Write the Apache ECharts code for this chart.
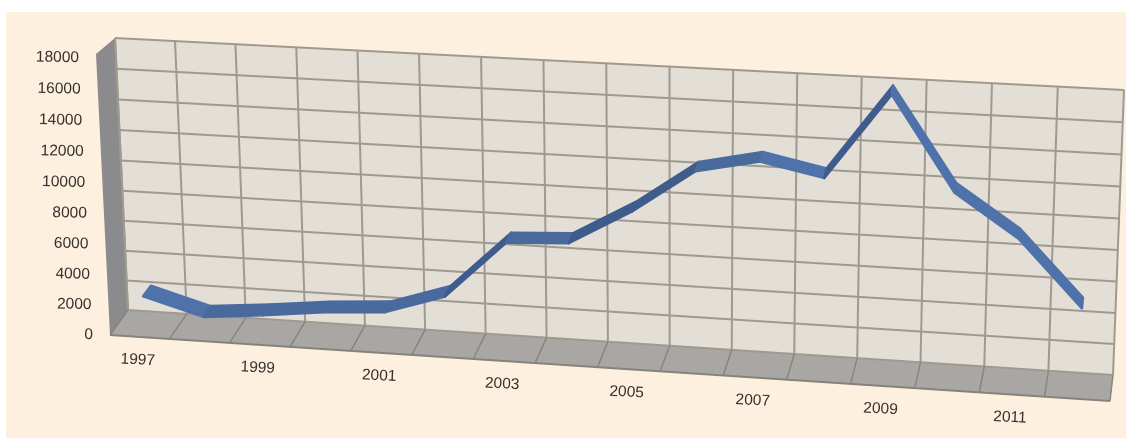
<!DOCTYPE html>
<html>
<head>
<meta charset="utf-8">
<style>
html,body{margin:0;padding:0;background:#ffffff;}
#chart{width:1126px;height:438px;}
</style>
<script src="https://cdn.jsdelivr.net/npm/echarts@6/dist/echarts.min.js"></script>
</head>
<body>
<div id="chart"></div>
<script>
// Yearly series drawn on a receding 3-D wall.
var years = ['1997','1998','1999','2000','2001','2002','2003','2004','2005','2006','2007','2008','2009','2010','2011','2012'];
var values = [2220,1120,1480,1930,2190,3480,7200,7410,9660,12450,13300,12500,17900,12060,9410,5290];
var valueTicks = [0,2000,4000,6000,8000,10000,12000,14000,16000,18000];

// Screen corners of the back wall and the depth vector at each corner.
var wallQuad = {tl:[115,38], tr:[1124,90], br:[1113,375], bl:[128,310]};
var depth = {tl:[-19,16], tr:[1,22], br:[-3,26], bl:[-18,25]};
var ribbonNear = 0.72, ribbonFar = 0.28;

var colors = {
  page:'#fdf0de', wall:'#e3dfd7', line:'#a0998f', floor:'#a9a7a4', floorLine:'#86827c',
  side:'#8b8b8d', text:'#35312e', fall:'#4e72a9', flat:'#4a699c', rise:'#3f5c8c'
};

// Projective map from the unit square (u right, v up) onto the wall.
function solveHomography(q){
  var x0=q.bl[0],y0=q.bl[1],x1=q.br[0],y1=q.br[1],x2=q.tr[0],y2=q.tr[1],x3=q.tl[0],y3=q.tl[1];
  var dx1=x1-x2,dx2=x3-x2,dx3=x0-x1+x2-x3,dy1=y1-y2,dy2=y3-y2,dy3=y0-y1+y2-y3;
  var det=dx1*dy2-dx2*dy1;
  var g=(dx3*dy2-dx2*dy3)/det,h=(dx1*dy3-dx3*dy1)/det;
  return {a:x1-x0+g*x1,b:x3-x0+h*x3,c:x0,d:y1-y0+g*y1,e:y3-y0+h*y3,f:y0,g:g,h:h};
}
var H = solveHomography(wallQuad);

// u, v in wall units; d runs from the wall (0) to the front edge (1).
function project(u,v,d){
  var w=H.g*u+H.h*v+1;
  var x=(H.a*u+H.b*v+H.c)/w, y=(H.d*u+H.e*v+H.f)/w;
  var ox=depth.bl[0]*(1-u)*(1-v)+depth.br[0]*u*(1-v)+depth.tr[0]*u*v+depth.tl[0]*(1-u)*v;
  var oy=depth.bl[1]*(1-u)*(1-v)+depth.br[1]*u*(1-v)+depth.tr[1]*u*v+depth.tl[1]*(1-u)*v;
  return [x+ox*d,y+oy*d];
}

// Converts a data pair to wall units through the chart's own axes.
function toUnit(api,cs,cat,val){
  var p=api.coord([cat,val]);
  return [(p[0]-cs.x)/cs.width,1-(p[1]-cs.y)/cs.height];
}
function poly(points,fill,z,edge){
  return {type:'polygon',z2:z||0,shape:{points:points},
    style:{fill:fill,stroke:edge?fill:null,lineWidth:edge||0,lineJoin:'round'}};
}
function seg(a,b,stroke,width,z){
  return {type:'line',z2:z||0,shape:{x1:a[0],y1:a[1],x2:b[0],y2:b[1]},style:{stroke:stroke,lineWidth:width}};
}
function label(text,pos,align,rot){
  return {type:'text',z2:5,x:pos[0],y:pos[1],rotation:rot,
    style:{text:text,fill:colors.text,font:'15.5px "Liberation Sans"',align:align,verticalAlign:'middle'}};
}

// Wall, floor, side panel, gridlines and tick labels.
function renderFrame(params,api){
  var cs=params.coordSys, kids=[];
  kids.push(poly([project(0,0,1),project(0,1,1),project(0,1,0),project(0,0,0)],colors.side,0));
  kids.push(poly([project(0,1,0),project(1,1,0),project(1,0,0),project(0,0,0)],colors.wall,0));
  kids.push(poly([project(0,0,0),project(1,0,0),project(1,0,1),project(0,0,1)],colors.floor,0));
  valueTicks.forEach(function(t){
    var v=toUnit(api,cs,0,t)[1];
    kids.push(seg(project(0,v,0),project(1,v,0),colors.line,2,1));
    var a=project(0,v,1);
    kids.push(label(String(t),[a[0]-17,a[1]+4*v],'right',-0.02));
  });
  years.forEach(function(y,i){
    var left=i/years.length;
    kids.push(seg(project(left,0,0),project(left,1,0),colors.line,2,1));
    kids.push(seg(project(left,0,0),project(left,0,1),colors.floorLine,1.4,1));
    if(i%2===0){
      var c=project(toUnit(api,cs,i,0)[0],0,1);
      kids.push(label(y,[c[0]-2,c[1]+23],'center',-0.05));
    }
  });
  kids.push(seg(project(1,0,0),project(1,1,0),colors.line,2,1));
  kids.push(seg(project(1,0,0),project(1,0,1),colors.floorLine,1.4,1));
  kids.push(seg(project(0,0,1),project(1,0,1),colors.floorLine,1.8,1));
  kids.push(seg(project(0,0,0),project(0,1,0),colors.line,2,1));
  return {type:'group',children:kids};
}

// One ribbon segment per year, shaded by its direction.
function renderRibbon(params,api){
  var i=params.dataIndex, cs=params.coordSys;
  if(i>=values.length-1) return null;
  var a=toUnit(api,cs,i,values[i]), b=toUnit(api,cs,i+1,values[i+1]);
  var slope=values[i+1]-values[i];
  var fill=slope>1500?colors.rise:slope<-300?colors.fall:colors.flat;
  return poly([
    project(a[0],a[1],ribbonFar),project(b[0],b[1],ribbonFar),
    project(b[0],b[1],ribbonNear),project(a[0],a[1],ribbonNear)
  ],fill,3,2.5);
}

var chart=echarts.init(document.getElementById('chart'),null,{renderer:'canvas'});
chart.setOption({
  animation:false,
  graphic:[{type:'rect',silent:true,z:-10,shape:{x:6,y:12,width:1120,height:426},style:{fill:colors.page}}],
  grid:{left:120,right:20,top:40,bottom:120},
  xAxis:{type:'category',data:years,show:false},
  yAxis:{type:'value',min:0,max:18000,interval:2000,show:false},
  series:[
    {type:'custom',name:'frame',renderItem:renderFrame,data:[[0,0]],silent:true,clip:false,z:1},
    {type:'custom',name:'Value',renderItem:renderRibbon,data:values.map(function(v,i){return [i,v];}),clip:false,z:2}
  ]
});
</script>
</body>
</html>
